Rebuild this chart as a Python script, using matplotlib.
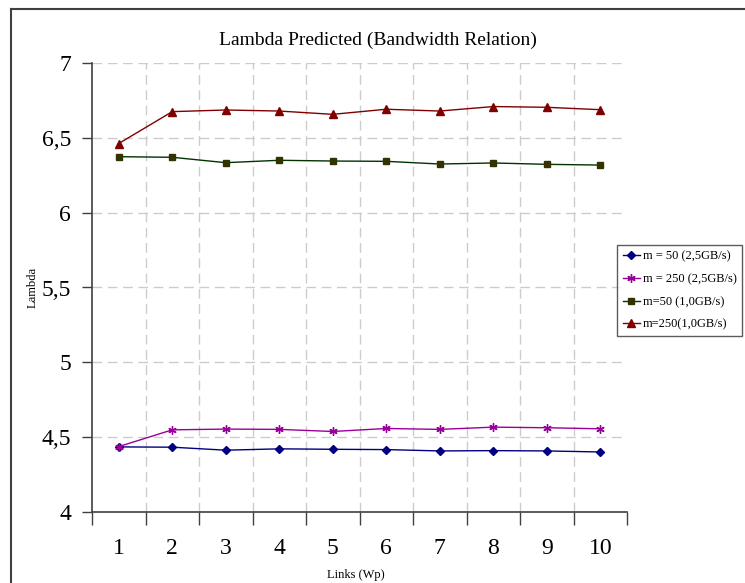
import matplotlib
matplotlib.use("Agg")
import matplotlib.pyplot as plt
from matplotlib.lines import Line2D
from matplotlib.ticker import FixedLocator, FuncFormatter

plt.rcParams['font.family'] = ['Liberation Serif', 'DejaVu Serif']

links = [1, 2, 3, 4, 5, 6, 7, 8, 9, 10]
m50_25 = [4.435, 4.433, 4.413, 4.422, 4.419, 4.417, 4.408, 4.410, 4.408, 4.401]
m250_25 = [4.437, 4.549, 4.554, 4.552, 4.538, 4.558, 4.552, 4.567, 4.563, 4.556]
m50_10 = [6.374, 6.370, 6.334, 6.350, 6.345, 6.343, 6.325, 6.332, 6.323, 6.318]
m250_10 = [6.462, 6.675, 6.686, 6.679, 6.657, 6.691, 6.679, 6.709, 6.704, 6.688]
labels = ["m = 50 (2,5GB/s)", "m = 250 (2,5GB/s)", "m=50 (1,0GB/s)", "m=250(1,0GB/s)"]
yticks = [4, 4.5, 5, 5.5, 6, 6.5, 7]

W, H = 745, 583
fig = plt.figure(figsize=(W / 100, H / 100), dpi=100)
ax = fig.add_axes([92 / W, 1 - 512 / H, (627 - 92) / W, (512 - 63) / H])

ax.plot(links, m50_25, color='#000080', lw=1.0, marker='D', ms=4, mfc='#000080', mec='#000080', label=labels[0])
ax.plot(links, m250_25, color='#990099', lw=1.0, marker=(6, 2, 0), ms=6, mew=1.0, mec='#990099', label=labels[1])
ax.plot(links, m50_10, color='#003300', lw=1.0, marker='s', ms=5, mfc='#333300', mec='#333300', label=labels[2])
ax.plot(links, m250_10, color='#800000', lw=1.0, marker='^', ms=6, mfc='#800000', mec='#800000', label=labels[3])

ax.set_xlim(0.5, 10.5)
ax.set_ylim(4, 7)

# y axis
ax.yaxis.set_major_locator(FixedLocator(yticks))
ax.yaxis.set_major_formatter(FuncFormatter(lambda v, p: (f"{v:g}").replace('.', ',')))
ax.tick_params(axis='y', which='major', direction='out', length=7, width=1.0, color='#404040',
               labelsize=17, pad=8)

# x axis: ticks at category boundaries, labels at category centers
ax.xaxis.set_major_locator(FixedLocator([i + 0.5 for i in range(0, 11)]))
ax.xaxis.set_minor_locator(FixedLocator(links))
ax.xaxis.set_major_formatter(FuncFormatter(lambda v, p: ""))
ax.xaxis.set_minor_formatter(FuncFormatter(lambda v, p: f"{int(round(v))}"))
ax.tick_params(axis='x', which='major', direction='out', length=9, width=1.0, color='#404040')
ax.tick_params(axis='x', which='minor', length=0, labelsize=17, pad=19)

for s in ['top', 'right']:
    ax.spines[s].set_visible(False)
for s in ['left', 'bottom']:
    ax.spines[s].set_color('#404040')
    ax.spines[s].set_linewidth(1.2)

# grid
for y in yticks[1:]:
    ax.axhline(y, color='#cccccc', lw=1.0, ls=(0, (7, 4)), zorder=0)
for x in [i + 0.5 for i in range(1, 10)]:
    ax.axvline(x, color='#cccccc', lw=1.0, ls=(0, (7, 4)), zorder=0)

fig.text(33 / W, 1 - 287 / H, "Lambda", fontsize=9, rotation=90, ha='center', va='center')
fig.text(356 / W, 1 - 575 / H, "Links (Wp)", fontsize=9, ha='center', va='center')
fig.text(378 / W, 1 - 40 / H, "Lambda Predicted (Bandwidth Relation)", fontsize=14, ha='center', va='center')

leg = ax.legend(loc='upper left', bbox_to_anchor=(617 / W, 1 - 245 / H), bbox_transform=fig.transFigure,
                fontsize=9, frameon=True, fancybox=False, edgecolor='#333333', borderpad=0.45,
                handlelength=1.4, handletextpad=0.2, labelspacing=0.85, borderaxespad=0)
leg.get_frame().set_linewidth(1.0)

# chart border
fig.add_artist(Line2D([11 / W, 11 / W], [0, 1 - 9 / H], transform=fig.transFigure, color='#404040', lw=1.5))
fig.add_artist(Line2D([11 / W, 1], [1 - 9 / H, 1 - 9 / H], transform=fig.transFigure, color='#404040', lw=1.5))

fig.savefig("out.png", dpi=100)
